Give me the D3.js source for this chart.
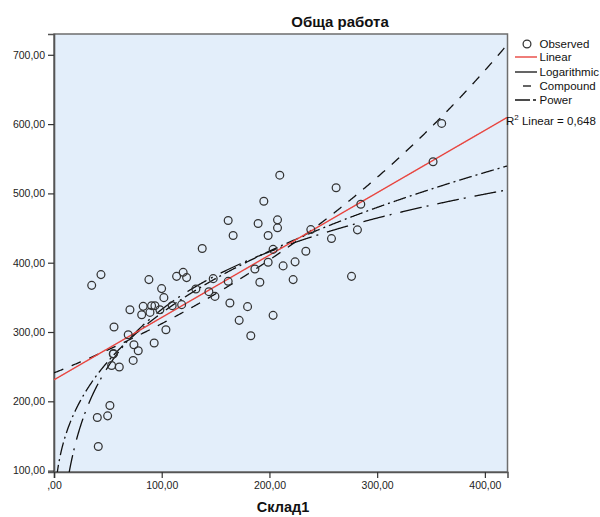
<!DOCTYPE html>
<html><head><meta charset="utf-8">
<script src="https://cdn.jsdelivr.net/npm/d3@7"></script>
<style>body{margin:0;background:#fff}text{font-family:"Liberation Sans",Arial,sans-serif}</style>
</head><body><svg id="c" width="600" height="517"></svg>
<script>
// Observed points (Склад1, Обща работа)
const obsX = [359.9,351.9,209.6,261.9,194.8,161.7,189.5,207.5,207.5,284.8,166.3,198.8,238.4,281.7,257.6,137.6,203.4,233.8,198.8,186.5,212.7,223.8,191.1,222.0,276.2,88.1,113.8,119.9,123.1,99.9,102.0,147.8,161.7,131.7,143.8,149.4,163.3,179.7,171.9,203.4,182.7,43.6,35.0,70.5,82.8,90.6,93.7,81.4,89.1,98.3,109.7,118.5,55.7,68.9,103.9,93.0,74.2,78.2,73.5,55.0,55.2,53.5,60.6,40.2,49.8,51.9,41.1];
const obsY = [601.0,545.7,526.3,508.1,488.7,460.8,456.5,461.8,450.3,484.4,439.2,439.2,447.8,447.4,434.8,420.4,419.2,416.5,400.6,391.0,395.4,401.2,371.7,375.6,380.3,375.6,380.3,386.1,378.5,362.6,349.6,377.0,373.1,362.1,358.2,351.4,341.9,336.6,316.8,324.0,294.7,382.8,367.3,332.2,337.0,338.0,338.0,325.0,328.3,332.2,338.0,339.5,307.2,296.1,303.3,284.1,281.6,273.0,259.0,268.2,268.8,251.7,249.4,176.6,179.0,193.9,134.7];
const xTicks = [0,100,200,300,400];
const yTicks = [100,200,300,400,500,600,700];
// Fitted model coefficients
const linearCoef = [231, 0.9];          // y = b0 + b1*x
const logCoef = [-220, 120];            // y = b0 + b1*ln(x)
const compoundCoef = [241, 1.002587];   // y = b0 * b1^x
const powerCoef = [66.1, 0.3475];       // y = b0 * x^b1
const legendLabels = ["Observed","Linear","Logarithmic","Compound","Power"];
const rSquared = "0,648";

const svg = d3.select("#c");
const L=54, R=507.5, T=34, B=472;
const x = d3.scaleLinear().domain([0,421]).range([L,R]);
const y = d3.scaleLinear().domain([98,730]).range([B,T]);
const fmt = d => d===0 ? ",00" : d3.format(".2f")(d).replace(".",",");

svg.append("defs").append("clipPath").attr("id","clip")
  .append("rect").attr("x",L).attr("y",T).attr("width",R-L).attr("height",B-T);

svg.append("rect").attr("x",L).attr("y",T).attr("width",R-L).attr("height",B-T)
  .attr("fill","#e3eefa").attr("stroke","#6e6e6e").attr("stroke-width",1.5);

// axes
const ya = svg.append("g").attr("transform",`translate(${L},0)`)
  .call(d3.axisLeft(y).tickValues(yTicks).tickFormat(fmt).tickSize(6).tickPadding(3));
const xa = svg.append("g").attr("transform",`translate(0,${B})`)
  .call(d3.axisBottom(x).tickValues(xTicks).tickFormat(fmt).tickSize(6).tickPadding(4));
[ya,xa].forEach(a=>{
  a.select(".domain").attr("stroke","#555").attr("stroke-width",1.6);
  a.selectAll(".tick line").attr("stroke","#333").attr("stroke-width",1.2);
  a.selectAll(".tick text").attr("fill","#222").style("font-size","10.5px");
});

const g = svg.append("g").attr("clip-path","url(#clip)");
const xs = d3.range(0.05, 421, 0.5);
const curve = (f) => d3.line().x(d=>x(d)).y(d=>y(f(d)))(xs.filter(v=>{const t=f(v); return isFinite(t) && t>-500;}));

const styles = {
  Linear: {f: v=>linearCoef[0]+linearCoef[1]*v, stroke:"#e8453f", dash:null, w:1.4},
  Logarithmic: {f: v=>logCoef[0]+logCoef[1]*Math.log(v), stroke:"#111", dash:"22,5,2,9", w:1.3},
  Compound: {f: v=>compoundCoef[0]*Math.pow(compoundCoef[1],v), stroke:"#111", dash:"10,9", w:1.3},
  Power: {f: v=>powerCoef[0]*Math.pow(v,powerCoef[1]), stroke:"#111", dash:"13,4,2,4", w:1.3}
};
["Logarithmic","Compound","Power","Linear"].forEach(k=>{
  const s=styles[k];
  g.append("path").attr("d",curve(s.f)).attr("fill","none").attr("stroke",s.stroke)
   .attr("stroke-width",s.w).attr("stroke-dasharray",s.dash);
});

g.selectAll("circle.o").data(obsX.map((v,i)=>[v,obsY[i]])).join("circle")
  .attr("class","o").attr("cx",d=>x(d[0])).attr("cy",d=>y(d[1])).attr("r",3.9)
  .attr("fill","none").attr("stroke","#333").attr("stroke-width",1.25);

// titles
svg.append("text").attr("x",340).attr("y",27).attr("text-anchor","middle")
  .style("font-size","15px").style("font-weight","bold").attr("fill","#111").text("Обща работа");
svg.append("text").attr("x",283).attr("y",512).attr("text-anchor","middle")
  .style("font-size","14.5px").style("font-weight","bold").attr("fill","#111").text("Склад1");

// legend
const ly = [44,57,72,86,100];
const lg = svg.append("g");
lg.append("circle").attr("cx",527).attr("cy",ly[0]).attr("r",3.9).attr("fill","none")
  .attr("stroke","#333").attr("stroke-width",1.25);
lg.append("line").attr("x1",515).attr("x2",537).attr("y1",ly[1]).attr("y2",ly[1]).attr("stroke","#e8453f").attr("stroke-width",1.4);
lg.append("line").attr("x1",515).attr("x2",537).attr("y1",ly[2]).attr("y2",ly[2]).attr("stroke","#111").attr("stroke-width",1.3);
lg.append("line").attr("x1",523).attr("x2",531).attr("y1",ly[3]).attr("y2",ly[3]).attr("stroke","#111").attr("stroke-width",1.3);
lg.append("line").attr("x1",515).attr("x2",537).attr("y1",ly[4]).attr("y2",ly[4]).attr("stroke","#111").attr("stroke-width",1.3).attr("stroke-dasharray","15,3,3,10");
legendLabels.forEach((t,i)=>{
  lg.append("text").attr("x",539.5).attr("y",ly[i]+4).style("font-size","11.5px").attr("fill","#111").text(t);
});
const rt = svg.append("text").attr("x",506).attr("y",125).style("font-size","11.5px").attr("fill","#111");
rt.append("tspan").text("R");
rt.append("tspan").attr("dy",-5).style("font-size","8px").text("2");
rt.append("tspan").attr("dy",5).text(" Linear = "+rSquared);
</script></body></html>
